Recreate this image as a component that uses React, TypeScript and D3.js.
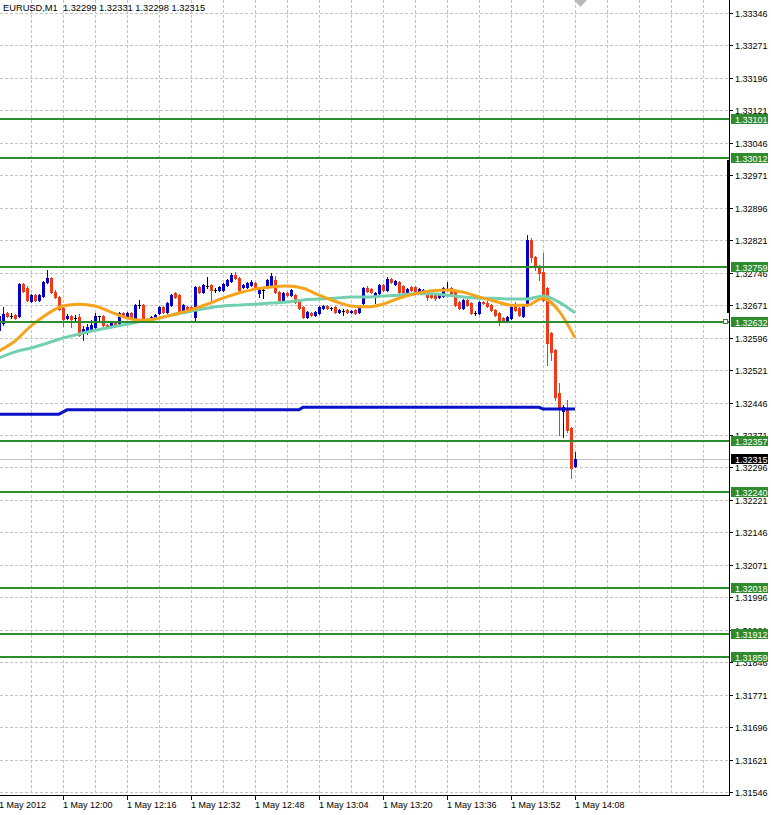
import * as d3 from "d3";

const W = 771;
const H = 815;
const PLOT_R = 729;
const PLOT_B = 795;

const symbol = "EURUSD,M1";

// one-minute bars, 11:44 .. 14:08
const opens = [
  1.32613, 1.3263, 1.32653, 1.32646, 1.32648, 1.32646, 1.3272, 1.3271, 1.3268, 1.32694,
  1.32683, 1.32692, 1.32724, 1.32734, 1.32701, 1.3269, 1.32664, 1.32641, 1.32646, 1.32641,
  1.32643, 1.32606, 1.32611, 1.32616, 1.3262, 1.32646, 1.32646, 1.32625, 1.32625, 1.32632,
  1.3263, 1.32653, 1.32643, 1.32653, 1.32641, 1.32671, 1.32671, 1.32639, 1.32641, 1.32643,
  1.32653, 1.32667, 1.32655, 1.32671, 1.32699, 1.32694, 1.32655, 1.32667, 1.32667, 1.32643,
  1.32713, 1.32701, 1.32715, 1.32717, 1.32706, 1.32706, 1.32706, 1.32717, 1.32727, 1.32741,
  1.32734, 1.32713, 1.32713, 1.32717, 1.32722, 1.32699, 1.32706, 1.32713, 1.32717, 1.32729,
  1.32701, 1.32683, 1.32699, 1.32694, 1.32694, 1.32678, 1.32667, 1.32643, 1.32653, 1.32648,
  1.32653, 1.32664, 1.32669, 1.32664, 1.32667, 1.32655, 1.32657, 1.3266, 1.32655, 1.3266,
  1.32655, 1.32676, 1.3271, 1.32708, 1.3269, 1.32699, 1.32717, 1.32706, 1.32731, 1.3272,
  1.32724, 1.32715, 1.32701, 1.32713, 1.32713, 1.32701, 1.32701, 1.32699, 1.32694, 1.32694,
  1.3269, 1.32692, 1.32708, 1.3271, 1.32701, 1.32678, 1.32664, 1.32683, 1.32676, 1.32653,
  1.32653, 1.32678, 1.32676, 1.32671, 1.3266, 1.32653, 1.32641, 1.32636, 1.32641, 1.32671,
  1.32664, 1.32646, 1.32671, 1.32821, 1.32782, 1.32761, 1.32747, 1.3271, 1.32606, 1.32567,
  1.32468, 1.32426, 1.32433, 1.32387, 1.32299,
];
const highs = [
  1.32653, 1.32667, 1.32655, 1.32653, 1.3265, 1.32722, 1.32722, 1.32715, 1.32697, 1.32697,
  1.32697, 1.32727, 1.32752, 1.32736, 1.32706, 1.32692, 1.32667, 1.3265, 1.32648, 1.32648,
  1.3265, 1.32623, 1.32627, 1.32636, 1.32653, 1.32646, 1.32648, 1.32627, 1.32632, 1.32634,
  1.32655, 1.32655, 1.32655, 1.32655, 1.32673, 1.32683, 1.32673, 1.32641, 1.32646, 1.3265,
  1.32669, 1.32669, 1.32678, 1.32697, 1.32701, 1.32697, 1.32673, 1.32669, 1.32669, 1.32715,
  1.32715, 1.3272, 1.32736, 1.3272, 1.3271, 1.32715, 1.32722, 1.32731, 1.32745, 1.32747,
  1.32736, 1.3272, 1.32724, 1.32729, 1.32724, 1.32713, 1.32713, 1.32731, 1.32745, 1.32738,
  1.32704, 1.32701, 1.32701, 1.32708, 1.32697, 1.3268, 1.32669, 1.32657, 1.32655, 1.32657,
  1.32669, 1.32671, 1.32671, 1.32667, 1.32669, 1.32662, 1.32662, 1.32662, 1.3266, 1.32662,
  1.32669, 1.32713, 1.32715, 1.3271, 1.32701, 1.3272, 1.3272, 1.32736, 1.32734, 1.32729,
  1.32727, 1.32717, 1.3271, 1.32715, 1.32715, 1.3271, 1.32708, 1.32701, 1.32697, 1.32697,
  1.32697, 1.32713, 1.32724, 1.32713, 1.32704, 1.3268, 1.32685, 1.32685, 1.32678, 1.32657,
  1.3268, 1.3268, 1.3268, 1.32673, 1.32662, 1.32655, 1.32643, 1.32646, 1.32669, 1.32678,
  1.32667, 1.32673, 1.32833, 1.32826, 1.32784, 1.32764, 1.32791, 1.32713, 1.32608, 1.32569,
  1.32491, 1.3244, 1.32452, 1.32389, 1.32331,
];
const lows = [
  1.32597, 1.32625, 1.32643, 1.32641, 1.32639, 1.32643, 1.32701, 1.3268, 1.32678, 1.3268,
  1.3268, 1.3269, 1.32722, 1.32699, 1.32687, 1.3266, 1.32623, 1.32639, 1.3262, 1.32634,
  1.32599, 1.3259, 1.32604, 1.32611, 1.32618, 1.32632, 1.32623, 1.32618, 1.32623, 1.32625,
  1.32627, 1.32643, 1.32641, 1.32639, 1.32639, 1.32664, 1.32634, 1.32632, 1.32636, 1.32641,
  1.3265, 1.32653, 1.32653, 1.32669, 1.32687, 1.32653, 1.32653, 1.32657, 1.3266, 1.32632,
  1.32699, 1.32699, 1.3271, 1.32683, 1.32701, 1.32704, 1.32704, 1.32715, 1.32724, 1.32731,
  1.32704, 1.3271, 1.3271, 1.32715, 1.32708, 1.3269, 1.32687, 1.3271, 1.32715, 1.32699,
  1.3268, 1.3268, 1.32692, 1.32692, 1.32676, 1.32662, 1.32641, 1.32641, 1.32646, 1.32646,
  1.3265, 1.32662, 1.32662, 1.3266, 1.32653, 1.32653, 1.32648, 1.32653, 1.32653, 1.3265,
  1.32653, 1.32673, 1.32701, 1.32699, 1.32676, 1.32697, 1.32704, 1.32704, 1.32722, 1.32717,
  1.32699, 1.32699, 1.32699, 1.32704, 1.32699, 1.32699, 1.32699, 1.32683, 1.32687, 1.32683,
  1.32687, 1.3269, 1.32706, 1.32697, 1.32669, 1.32662, 1.32662, 1.32669, 1.3265, 1.32648,
  1.3265, 1.32673, 1.32667, 1.32657, 1.32646, 1.32625, 1.32634, 1.32634, 1.32639, 1.32657,
  1.32646, 1.32643, 1.32669, 1.32771, 1.32752, 1.32729, 1.3268, 1.32532, 1.32544, 1.32452,
  1.32371, 1.32366, 1.32378, 1.32271, 1.32298,
];
const closes = [
  1.32646, 1.3265, 1.32646, 1.32646, 1.32641, 1.3272, 1.32704, 1.32683, 1.32694, 1.32683,
  1.32694, 1.32724, 1.32734, 1.32701, 1.3269, 1.32662, 1.32639, 1.32646, 1.32639, 1.32641,
  1.32602, 1.32616, 1.3262, 1.32625, 1.32646, 1.32646, 1.32625, 1.3262, 1.3263, 1.32627,
  1.32653, 1.32646, 1.32653, 1.32641, 1.32671, 1.32671, 1.32636, 1.32636, 1.32643, 1.32648,
  1.32667, 1.32655, 1.32676, 1.32694, 1.3269, 1.32655, 1.32671, 1.3266, 1.32662, 1.32713,
  1.32701, 1.32717, 1.32715, 1.32706, 1.32706, 1.32713, 1.3272, 1.32729, 1.32741, 1.32734,
  1.32706, 1.32717, 1.32722, 1.32724, 1.3271, 1.3271, 1.32706, 1.32729, 1.32738, 1.32701,
  1.32683, 1.32699, 1.32694, 1.32706, 1.32678, 1.32664, 1.32643, 1.32655, 1.32648, 1.32655,
  1.32667, 1.32669, 1.32664, 1.32664, 1.32655, 1.3266, 1.32657, 1.32655, 1.32657, 1.32653,
  1.32667, 1.3271, 1.32704, 1.32701, 1.32699, 1.32717, 1.32706, 1.32731, 1.32724, 1.32727,
  1.32701, 1.32701, 1.32708, 1.32706, 1.32701, 1.32708, 1.32706, 1.3269, 1.3269, 1.32687,
  1.32694, 1.3271, 1.32708, 1.32699, 1.32671, 1.32664, 1.32683, 1.32671, 1.32653, 1.32653,
  1.32678, 1.32676, 1.32669, 1.3266, 1.32648, 1.32636, 1.32636, 1.32643, 1.32667, 1.3266,
  1.32648, 1.32671, 1.32821, 1.32782, 1.32761, 1.32745, 1.32683, 1.32583, 1.32563, 1.32459,
  1.32435, 1.32435, 1.32382, 1.32294, 1.32315,
];

// moving averages, read every 4th bar
const maBars = d3.range(0, 145, 4);
const maFast = [
  1.32565, 1.32588, 1.32623, 1.3265, 1.32669, 1.32673, 1.32669, 1.32655, 1.32641, 1.32636,
  1.32641, 1.3265, 1.3266, 1.32673, 1.32687, 1.32699, 1.32708, 1.32713, 1.32715, 1.3271,
  1.32694, 1.3268, 1.32669, 1.32667, 1.32673, 1.32687, 1.32697, 1.32704, 1.32706, 1.32701,
  1.3269, 1.3268, 1.32671, 1.32671, 1.32687, 1.32657, 1.32595,
];
const maSlow = [
  1.32549, 1.32563, 1.32572, 1.32583, 1.32595, 1.32604, 1.32613, 1.3262, 1.32627, 1.32634,
  1.32641, 1.3265, 1.32657, 1.32664, 1.32669, 1.32671, 1.32673, 1.32676, 1.32678, 1.32683,
  1.32685, 1.32687, 1.3269, 1.3269, 1.32692, 1.32694, 1.32697, 1.32697, 1.32694, 1.3269,
  1.32687, 1.32687, 1.32685, 1.32685, 1.32692, 1.32678, 1.32653,
];
const maLongBars = [0, 15, 17, 75, 76, 135, 136, 144];
const maLong = [1.32419, 1.32419, 1.32429, 1.32429, 1.32435, 1.32435, 1.32431, 1.32431];

const levels = [1.33101, 1.33012, 1.32759, 1.32632, 1.32357, 1.3224, 1.32018, 1.31912, 1.31859];
const bid = 1.32315;

const priceTicks = [
  1.33346, 1.33271, 1.33196, 1.33121, 1.33046, 1.32971, 1.32896, 1.32821, 1.32746, 1.32671,
  1.32596, 1.32521, 1.32446, 1.32371, 1.32296, 1.32221, 1.32146, 1.32071, 1.31996, 1.31921,
  1.31846, 1.31771, 1.31696, 1.31621, 1.31546,
];
const timeLabels = [
  "1 May 2012", "1 May 12:00", "1 May 12:16", "1 May 12:32", "1 May 12:48",
  "1 May 13:04", "1 May 13:20", "1 May 13:36", "1 May 13:52", "1 May 14:08",
];
const timeLabelBars = [0, 16, 32, 48, 64, 80, 96, 112, 128, 144];

const BULL = "#0000c8";
const BEAR = "#ee3a16";
const LEVEL = "#2e8b2e";
const GRID = "#c4c4c4";
const FONT = "'Liberation Sans', Arial, sans-serif";

export default function App() {
  const x = d3.scaleLinear().domain([0, 182.5]).range([-1, PLOT_R]);
  const y = d3.scaleLinear().domain([1.31546, 1.33346]).range([792, 13]);
  const py = (v: number) => Math.round(y(v));

  const gridBars = d3.range(8, 180, 8);

  const maLine = (bars: number[]) =>
    d3
      .line<number>()
      .x((_, k) => x(bars[k]))
      .y((d) => y(d))
      .curve(d3.curveMonotoneX);
  const stepLine = d3
    .line<number>()
    .x((_, k) => x(maLongBars[k]))
    .y((d) => y(d));

  const last = opens.length - 1;
  const title = `${symbol}  ${opens[last].toFixed(5)} ${highs[last].toFixed(5)} ${lows[last].toFixed(5)} ${closes[last].toFixed(5)}`;

  return (
    <svg width={W} height={H} style={{ display: "block", background: "#fff" }} fontFamily={FONT}>
      <style>{`body{margin:0}`}</style>
      <rect x={0} y={0} width={W} height={H} fill="#fff" />

      {/* grid */}
      <g stroke={GRID} strokeDasharray="3 2" shapeRendering="crispEdges">
        {priceTicks.map((t) => (
          <line key={"h" + t} x1={0} x2={PLOT_R} y1={py(t) + 0.5} y2={py(t) + 0.5} />
        ))}
        {gridBars.map((b) => (
          <line key={"v" + b} x1={Math.round(x(b)) + 0.5} x2={Math.round(x(b)) + 0.5} y1={0} y2={PLOT_B} />
        ))}
      </g>

      {/* chart shift marker */}
      <polygon points="574,0 587,0 580.5,7" fill="#b8b8b8" />

      {/* bid line */}
      <line x1={0} x2={PLOT_R} y1={py(bid) + 0.5} y2={py(bid) + 0.5} stroke="#c0c0c0" />

      {/* candles */}
      <g shapeRendering="crispEdges">
        {opens.map((o, i) => {
          const c = closes[i];
          const col = c > o ? BULL : c < o ? BEAR : "#000";
          const cx = Math.round(x(i));
          const top = py(Math.max(o, c));
          const bot = py(Math.min(o, c));
          const hi = py(highs[i]);
          const lo = py(lows[i]);
          return (
            <g key={i} fill={col}>
              <rect x={cx} y={hi} width={1} height={lo - hi + 1} />
              <rect x={cx - 1} y={top} width={3} height={Math.max(1, bot - top + 1)} />
            </g>
          );
        })}
      </g>

      {/* moving averages */}
      <path d={maLine(maBars)(maSlow) ?? ""} fill="none" stroke="#72d0b0" strokeWidth={3} />
      <path d={maLine(maBars)(maFast) ?? ""} fill="none" stroke="#f5a41c" strokeWidth={3} />
      <path d={stepLine(maLong) ?? ""} fill="none" stroke="#0a12c8" strokeWidth={3} />

      {/* horizontal levels */}
      <g shapeRendering="crispEdges">
        {levels.map((v) => (
          <rect key={"l" + v} x={0} y={py(v) - 1} width={PLOT_R} height={2} fill={LEVEL} />
        ))}
      </g>
      <rect x={723.5} y={py(1.32632) - 2.5} width={4} height={4} fill="#fff" stroke={LEVEL} />

      {/* axes */}
      <g shapeRendering="crispEdges">
        <line x1={PLOT_R + 0.5} x2={PLOT_R + 0.5} y1={0} y2={PLOT_B + 1} stroke="#000" />
        <line x1={0} x2={PLOT_R + 1} y1={PLOT_B + 0.5} y2={PLOT_B + 0.5} stroke="#000" />
        <rect x={727} y={160} width={3} height={153} fill="#000" />
        {priceTicks.map((t) => (
          <line key={"yt" + t} x1={PLOT_R} x2={PLOT_R + 4} y1={py(t) + 0.5} y2={py(t) + 0.5} stroke="#000" />
        ))}
        {timeLabelBars.map((b) => (
          <line key={"xt" + b} x1={Math.round(x(b)) + 0.5} x2={Math.round(x(b)) + 0.5} y1={PLOT_B} y2={PLOT_B + 5} stroke="#000" />
        ))}
      </g>
      <g fontSize={9} fill="#000">
        {priceTicks.map((t) => (
          <text key={"yl" + t} x={735} y={py(t) + 3.5}>
            {t.toFixed(5)}
          </text>
        ))}
        {timeLabels.map((s, k) => (
          <text key={s} x={Math.round(x(timeLabelBars[k]))} y={808}>
            {s}
          </text>
        ))}
      </g>

      {/* level labels */}
      <g fontSize={9}>
        {levels.map((v) => (
          <g key={"lb" + v}>
            <rect x={731} y={py(v) - 5} width={37} height={10} fill={LEVEL} />
            <text x={735} y={py(v) + 3.5} fill="#fff">
              {v.toFixed(5)}
            </text>
          </g>
        ))}
        <rect x={731} y={py(bid) - 5} width={37} height={10} fill="#000" />
        <text x={735} y={py(bid) + 3.5} fill="#fff">
          {bid.toFixed(5)}
        </text>
      </g>

      {/* title */}
      <text x={3} y={11} fontSize={9.3} fill="#000" style={{ whiteSpace: "pre" }}>
        {title}
      </text>
    </svg>
  );
}
